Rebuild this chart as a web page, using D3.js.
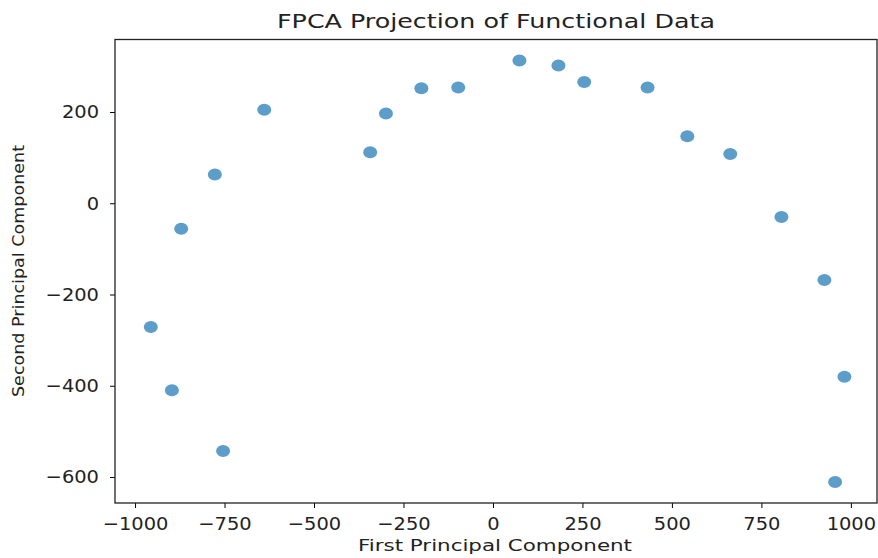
<!DOCTYPE html>
<html>
<head>
<meta charset="utf-8">
<script src="https://cdn.jsdelivr.net/npm/d3@7"></script>
<style>
  body { margin: 0; background: #fff; }
  text { font-family: "DejaVu Sans", sans-serif; fill: #222; }
</style>
</head>
<body>
<div id="chart"></div>
<script>
// scores on the first two functional principal components
const pc1 = [-956, -897, -754, -871, -777, -639, -343, -299, -200, -97,
             74, 183, 255, 432, 543, 663, 806, 926, 982, 956];
const pc2 = [-271, -410, -543, -56, 63, 205, 112, 197, 252, 254,
             313, 302, 266, 254, 147, 108, -30, -168, -380, -611];
const xTicks = [-1000, -750, -500, -250, 0, 250, 500, 750, 1000];
const yTicks = [-600, -400, -200, 0, 200];

const width = 878;
const height = 558;
const margin = {top: 39.5, right: 1, bottom: 55, left: 115};

const points = pc1.map((v, i) => ({x: v, y: pc2[i]}));
const fmt = d => d3.format('d')(d).replace('-', '\u2212');

const svg = d3.select('#chart')
  .append('svg')
  .attr('width', width)
  .attr('height', height);

const x = d3.scaleLinear()
  .domain([-1056, 1073])
  .range([margin.left, width - margin.right]);

const y = d3.scaleLinear()
  .domain([-657, 359])
  .range([height - margin.bottom, margin.top]);

// points
svg.append('g')
  .selectAll('ellipse')
  .data(points)
  .join('ellipse')
    .attr('cx', d => x(d.x))
    .attr('cy', d => y(d.y))
    .attr('rx', 7)
    .attr('ry', 6)
    .attr('fill', '#1f77b4')
    .attr('fill-opacity', 0.72);

// tick labels are slightly wider than the plain font
function stretch(g) {
  g.selectAll('text')
    .attr('font-size', 18)
    .attr('font-family', 'DejaVu Sans')
    .attr('fill', '#222')
    .each(function() {
      const w = this.getComputedTextLength();
      d3.select(this).attr('textLength', w * 1.08).attr('lengthAdjust', 'spacingAndGlyphs');
    });
}

svg.append('g')
  .attr('transform', `translate(0, ${height - margin.bottom})`)
  .call(d3.axisBottom(x).tickValues(xTicks).tickSize(5).tickPadding(9).tickFormat(fmt))
  .call(stretch)
  .call(g => g.select('.domain').remove());

svg.append('g')
  .attr('transform', `translate(${margin.left}, 0)`)
  .call(d3.axisLeft(y).tickValues(yTicks).tickSize(5).tickPadding(11).tickFormat(fmt))
  .call(stretch)
  .call(g => g.select('.domain').remove());

// frame
svg.append('rect')
  .attr('x', margin.left)
  .attr('y', margin.top)
  .attr('width', width - margin.right - margin.left)
  .attr('height', height - margin.bottom - margin.top)
  .attr('fill', 'none')
  .attr('stroke', '#222')
  .attr('stroke-width', 1.3);

// title and labels
svg.append('text')
  .attr('x', 496)
  .attr('y', 28)
  .attr('text-anchor', 'middle')
  .attr('font-size', 20)
  .attr('textLength', 438)
  .attr('lengthAdjust', 'spacingAndGlyphs')
  .text('FPCA Projection of Functional Data');

svg.append('text')
  .attr('x', 495)
  .attr('y', 551)
  .attr('text-anchor', 'middle')
  .attr('font-family', 'Open Sans')
  .attr('font-size', 16)
  .attr('textLength', 274)
  .attr('lengthAdjust', 'spacingAndGlyphs')
  .text('First Principal Component');

svg.append('text')
  .attr('transform', 'translate(23.5, 271) rotate(-90)')
  .attr('text-anchor', 'middle')
  .attr('font-family', 'Open Sans')
  .attr('font-size', 16)
  .attr('textLength', 252)
  .attr('lengthAdjust', 'spacingAndGlyphs')
  .text('Second Principal Component');
</script>
</body>
</html>
